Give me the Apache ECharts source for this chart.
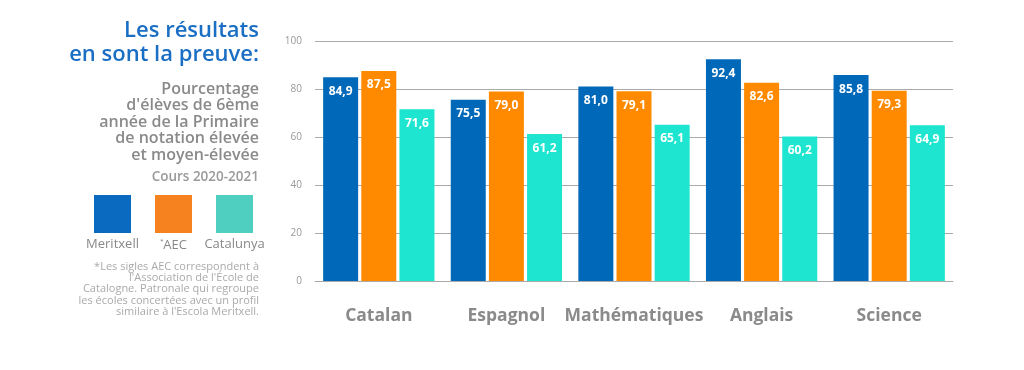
<!DOCTYPE html>
<html><head><meta charset="utf-8">
<script src="https://cdn.jsdelivr.net/npm/echarts@6/dist/echarts.min.js"></script>
<style>html,body{margin:0;padding:0;background:#fff}#c{width:1024px;height:370px}</style>
</head><body><div id="c"></div>
<script>
const categories = ['Catalan', 'Espagnol', 'Mathématiques', 'Anglais', 'Science'];
const seriesNames = ['Meritxell', '*AEC', 'Catalunya'];
const meritxell = [84.9, 75.5, 81.0, 92.4, 85.8];
const aec = [87.5, 79.0, 79.1, 82.6, 79.3];
const catalunya = [71.6, 61.2, 65.1, 60.2, 64.9];
const yTicks = [0, 20, 40, 60, 80, 100];
const titleLines = ['Les résultats', 'en sont la preuve:'];
const subtitleLines = ['Pourcentage', "d'élèves de 6ème", 'année de la Primaire', 'de notation élevée', 'et moyen-élevée'];
const courseText = 'Cours 2020-2021';
const footnoteLines = ["*Les sigles AEC correspondent à", "l'Association de l'École de", "Catalogne. Patronale qui regroupe", "les écoles concertées avec un profil", "similaire à l'Escola Meritxell."];

const barColors = ['#0068b9', '#ff8a00', '#1de5d0'];
const swatchColors = ['#0a6abf', '#f5821f', '#4ecfc0'];
const FONT = '"Open Sans", Lato, sans-serif';

const chart = echarts.init(document.getElementById('c'));
const graphic = [];
titleLines.forEach((t, i) => graphic.push({type: 'text', right: 1024 - 259, top: 20 + i * 24,
  style: {text: t, fill: '#1a6fc4', font: '600 22px ' + FONT, textAlign: 'right'}}));
subtitleLines.forEach((t, i) => graphic.push({type: 'text', right: 1024 - 259, top: 81 + i * 16.6,
  style: {text: t, fill: '#8a8a8a', font: '600 16px ' + FONT, textAlign: 'right'}}));
graphic.push({type: 'text', right: 1024 - 259, top: 170, style: {text: courseText, fill: '#9a9a9a', font: '600 13.5px ' + FONT}});
const swX = [94, 155, 216];
seriesNames.forEach((n, i) => {
  graphic.push({type: 'rect', shape: {x: swX[i], y: 195, width: 37, height: 38}, style: {fill: swatchColors[i]}});
  graphic.push({type: 'text', x: swX[i] + 18.5, y: 238,
    style: {text: n.startsWith('*') ? '{s|*}' + n.slice(1) : n, rich: {s: {fontSize: 8, verticalAlign: 'top', fill: '#888', padding: [0, 0, 6, 0]}},
      fill: '#888', font: '13px ' + FONT, textAlign: 'center'}});
});
footnoteLines.forEach((t, i) => graphic.push({type: 'text', right: 1024 - 259, top: 261 + i * 11.3,
  style: {text: t, fill: '#aaaaaa', font: '11px ' + FONT, textAlign: 'right'}}));

const mk = (name, data, color) => ({
  name, type: 'bar', data, barWidth: 35, barGap: '9%',
  itemStyle: {color},
  label: {show: true, position: 'insideTop', distance: 8, color: '#fff', fontWeight: 'bold', fontSize: 12, fontFamily: FONT,
    formatter: p => p.value.toFixed(1).replace('.', ',')}
});

chart.setOption({
  animation: false,
  backgroundColor: '#fff',
  grid: {left: 315, right: 71, top: 41, bottom: 89},
  xAxis: {type: 'category', data: categories,
    axisLine: {show: true, lineStyle: {color: '#aaa'}}, axisTick: {show: false},
    axisLabel: {interval: 0, color: '#8a8a8a', fontSize: 17.5, fontWeight: 'bold', fontFamily: FONT, margin: 26}},
  yAxis: {type: 'value', min: yTicks[0], max: yTicks[yTicks.length - 1], interval: yTicks[1] - yTicks[0],
    axisLine: {show: false}, axisTick: {show: false},
    axisLabel: {color: '#999', fontSize: 10, fontFamily: FONT, margin: 13},
    splitLine: {lineStyle: {color: '#aaa', width: 1}}},
  series: [mk(seriesNames[0], meritxell, barColors[0]), mk(seriesNames[1], aec, barColors[1]), mk(seriesNames[2], catalunya, barColors[2])],
  graphic
});
</script></body></html>
